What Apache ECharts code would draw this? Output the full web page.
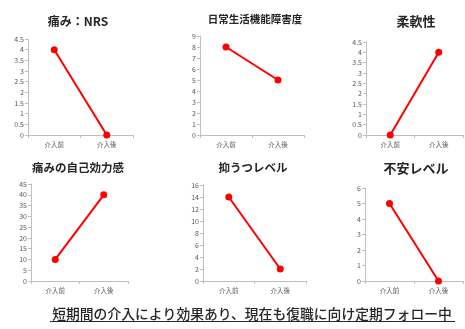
<!DOCTYPE html>
<html><head><meta charset="utf-8">
<script src="https://cdn.jsdelivr.net/npm/echarts@6/dist/echarts.min.js"></script>
<style>html,body{margin:0;padding:0;background:#fff}#c{width:465px;height:329px}</style>
</head><body><div id="c"></div>
<script>
const categories = ['介入前', '介入後'];
const titles = ['痛み：NRS', '日常生活機能障害度', '柔軟性', '痛みの自己効力感', '抑うつレベル', '不安レベル'];
const values1 = [4, 0];
const values2 = [8, 5];
const values3 = [0, 4];
const values4 = [10, 40];
const values5 = [14, 2];
const values6 = [5, 0];
const seriesValues = [values1, values2, values3, values4, values5, values6];
const yMax = [4.5, 9, 4.5, 45, 16, 6];
const yInterval = [0.5, 1, 0.5, 5, 2, 1];
const footer = '短期間の介入により効果あり、現在も復職に向け定期フォロー中';

const grids = [
  {left: 28, right: 332, top: 39, bottom: 194},
  {left: 200, right: 161, top: 36, bottom: 194},
  {left: 366, right: 2, top: 42, bottom: 194},
  {left: 31, right: 337, top: 184, bottom: 48},
  {left: 203, right: 159, top: 185, bottom: 48},
  {left: 365, right: 2, top: 188, bottom: 48}
];
const titlePos = [
  {x: 73, y: 10, size: 12},
  {x: 250, y: 9, size: 10.5},
  {x: 411, y: 10, size: 13},
  {x: 73, y: 157, size: 11.5},
  {x: 248, y: 157, size: 11.5},
  {x: 411, y: 157, size: 13}
];
const font = '"Noto Sans CJK JP", sans-serif';
const axisColor = '#bfbfbf';
const labelColor = '#595959';

const option = {
  backgroundColor: '#fff',
  animation: false,
  title: titles.map((t, i) => ({
    text: t, left: titlePos[i].x, top: titlePos[i].y, textAlign: 'center',
    textStyle: {fontSize: titlePos[i].size, fontWeight: 'bold', color: '#262626', fontFamily: font}
  })),
  grid: grids,
  xAxis: grids.map((g, i) => ({
    type: 'category', gridIndex: i, data: categories, boundaryGap: true,
    axisLine: {lineStyle: {color: axisColor}},
    axisTick: {show: true, length: 3, lineStyle: {color: axisColor}},
    axisLabel: {fontSize: 6.5, color: labelColor, fontFamily: font, margin: 6}
  })),
  yAxis: grids.map((g, i) => ({
    type: 'value', gridIndex: i, min: 0, max: yMax[i], interval: yInterval[i],
    axisLine: {show: true, lineStyle: {color: axisColor}},
    axisTick: {show: true, length: 3, lineStyle: {color: axisColor}},
    splitLine: {show: false},
    axisLabel: {fontSize: 7, color: labelColor, fontFamily: font, margin: 4}
  })),
  series: seriesValues.map((v, i) => ({
    type: 'line', xAxisIndex: i, yAxisIndex: i, data: v,
    symbol: 'circle', symbolSize: 7,
    lineStyle: {color: '#ff0000', width: 2},
    itemStyle: {color: '#ff0000'}
  })),
  graphic: [
    {type: 'text', x: 252, y: 314,
     style: {text: footer, fontSize: 13.8, fontFamily: font, fill: '#262626', fontWeight: 500, align: 'center', verticalAlign: 'middle'}},
    {type: 'rect', left: 50, top: 321, shape: {width: 405, height: 1}, style: {fill: '#262626'}}
  ]
};
echarts.init(document.getElementById('c')).setOption(option);
</script></body></html>
